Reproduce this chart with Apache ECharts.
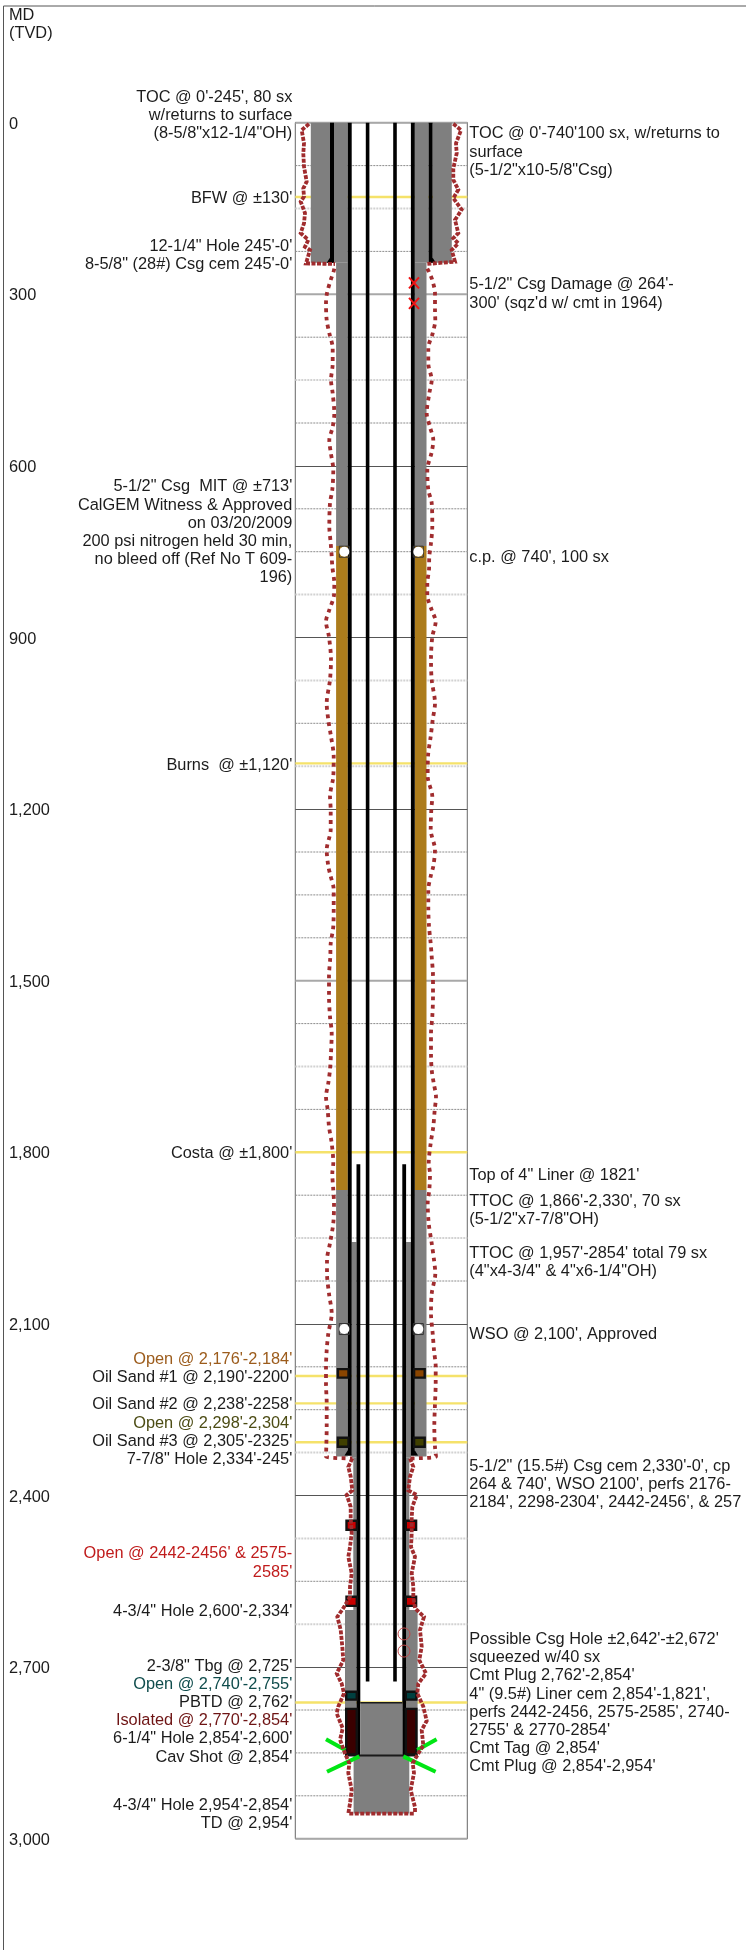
<!DOCTYPE html>
<html><head><meta charset="utf-8">
<style>html,body{margin:0;padding:0;background:#fff}#c{width:746px;height:1950px}</style>
<script src="https://cdn.jsdelivr.net/npm/echarts@6/dist/echarts.min.js"></script>
</head><body><div id="c"></div>
<script>
// ---- Data: depth in feet, offset = schematic distance from the well centre ----
const depthTickLabels = ['0','300','600','900','1,200','1,500','1,800','2,100','2,400','2,700','3,000'];
const minorThin  = [75,225,375,525,675,750,1050,1275,1350,1425,1575,1725,1875,2025,2175,2250,2550,2775,2850,2925];
const minorLight = [150,450,825,975,1125,1650,1950,2325,2475,2625];
const strongLight = [0,300,1500,3000];
const formationTops = [130,1120,1800,2191,2239,2307,2762];

// [inner offset, outer offset, top depth, bottom depth], mirrored about the centre
const grayCement = [[33.5,47.3,0,245],[51.3,70.5,0,245],[33.5,45.2,245,740],[33.5,45.2,1866,2332],[24.8,29.7,1957,2334],[24.8,28,2334,2600],[24.8,36.3,2600,2854]];
const brownCement = [[33.5,45.2,740,1866]];
const casings = [[47.3,51.3,0,245],[29.6,33.5,0,2330]];
const liner = [[21,24.8,1821,2854]];
const tubing = [[11.9,15.5,0,2725]];
const perfBrown = [[31.6,44.6,2177,2196]];
const perfOlive = [[31.6,44.6,2297,2317]];
const perfRed = [[23.3,36,2442,2462],[23.3,36,2575,2595]];
const perfTeal = [[23.3,36.3,2741,2759]];
const perfDark = [[23.3,36.3,2771,2855]];
const shoes = [[51.3,245],[33.5,2330]];
// [left, right, top, bottom], not mirrored
const plugs = [[-21,21,2762,2854],[-27.7,28,2854,2956]];
const plugEdges = [[-21,21,2761,2763.5],[-36.3,36.3,2853,2856.5]];
const cavShot = [[-55.3,2826,-36,2845],[-22,2856,-54.3,2883],[36,2845,55.3,2826],[22,2856,54.3,2883]];
const cementPorts = [[-37,750],[37,750],[-37,2109],[37,2109]];
const damageMarks = [[32.7,280],[32.7,316]];
const holeMarks = [[22.7,2642],[22.7,2672]];

const holeTopLeft = [[-72.3,2],[-79.6,13],[-77.3,36],[-78,53.5],[-77.3,77],[-74.6,103],[-78,115],[-77.3,129],[-80.6,138],[-76.3,158],[-77.3,176],[-80.6,193],[-73,205],[-76.3,217],[-71.3,222.6],[-75.3,246],[-46.3,247]];
const holeTopRight = [[72,2],[79.7,13],[74.7,36],[75.4,53.5],[72,80],[72,100],[77,117],[72,132],[80.4,152],[73.7,170],[77,193],[72,202],[77,211],[70.4,222.6],[73.7,243],[45.4,247]];
const holeMainLeft = [[-47,255],[-48,262],[-50.6,275],[-54.3,298],[-55.3,316],[-54.6,345],[-52,368],[-48.6,394],[-48.6,421],[-50.3,450],[-48.6,473],[-47,508],[-48.6,532],[-52,555],[-50.6,576],[-48,607],[-49,642],[-51.3,665],[-52,706],[-50.6,735],[-49.6,758],[-49,776],[-47,805],[-47.3,826],[-52,852],[-55.3,872],[-52.3,899],[-50.3,939],[-51.3,974],[-54.6,1015],[-53,1044],[-50.3,1073],[-47.6,1108],[-48,1143],[-51.3,1178],[-50.6,1201],[-50.6,1236],[-54.6,1271],[-53,1300],[-51,1315],[-47.6,1341],[-47.6,1371],[-48,1405],[-50.6,1435],[-51,1458],[-52.3,1493],[-52.3,1528],[-51.3,1563],[-49.6,1592],[-50.3,1627],[-51.3,1656],[-53,1679],[-55.3,1703],[-53.6,1726],[-52.3,1755],[-49.6,1784],[-48,1819],[-49,1837],[-48,1866],[-47.3,1889],[-48,1924],[-51.3,1959],[-54.3,1988],[-54.3,2012],[-52.3,2047],[-49.6,2082],[-53,2117],[-54.6,2146],[-55.3,2175],[-55.3,2204],[-54.6,2239],[-54.6,2280],[-55,2315],[-55.3,2332],[-29,2335]];
const holeMainRight = [[46,255],[48,262],[51,275],[53.7,298],[53.7,330],[54,345],[51.4,368],[47,394],[47,421],[50.4,450],[48,473],[45.4,508],[48.7,532],[52,555],[50.4,576],[46,607],[47,642],[50.4,665],[51,706],[49.7,735],[48,758],[47.7,782],[46,805],[46,826],[50.4,852],[54.4,872],[51,899],[49.7,939],[50.4,974],[53.7,1015],[51.4,1044],[49.4,1073],[46.7,1108],[46.4,1143],[51,1178],[50,1201],[49.4,1236],[53.7,1271],[52,1300],[49.7,1315],[47,1341],[47,1371],[47.7,1405],[49.4,1435],[50.4,1458],[51.7,1493],[51.7,1528],[51,1563],[49.7,1592],[49.7,1627],[50.4,1656],[52.4,1679],[54.7,1703],[53.4,1726],[52,1755],[49.4,1784],[47.4,1819],[48.7,1837],[48,1866],[46.4,1889],[47.4,1924],[50.4,1959],[52.7,1988],[54,2012],[50.4,2047],[49.7,2082],[51.4,2117],[52.7,2146],[54.4,2175],[54.4,2204],[53.7,2239],[53,2280],[53.7,2315],[54.7,2332],[28.7,2335]];
const holeLowLeft = [[-29,2335],[-33,2350],[-30.6,2367],[-29,2391],[-34.6,2399],[-30.6,2420],[-30.6,2440],[-29.6,2466],[-31.3,2490],[-33,2507],[-29.6,2536],[-31.3,2559],[-31.3,2577],[-38,2597],[-44,2612],[-40.6,2635],[-39,2664],[-38,2688],[-44.6,2711],[-39.6,2729],[-37.3,2746],[-43,2769],[-44.6,2781],[-38.6,2807],[-41.3,2827],[-36.3,2851],[-32,2868],[-33,2885],[-29.6,2915],[-31.3,2938],[-33,2956],[33.7,2956]];
const holeLowRight = [[28.7,2335],[32,2350],[28.7,2367],[27,2391],[35.4,2399],[31,2420],[30.4,2440],[30.4,2466],[29.7,2490],[33.7,2507],[30.4,2536],[32,2559],[32,2577],[33.7,2597],[42.7,2612],[38.7,2635],[40.4,2664],[38,2688],[44.7,2711],[37,2729],[36,2746],[42,2769],[45.4,2794],[40.4,2810],[42,2837],[37,2851],[31.4,2868],[32.7,2885],[29.4,2915],[33.7,2945],[33.7,2956]];

// [depth of the first line's centre, text lines, colour index]
const noteColors = ['#1c1c1c','#9c5c1c','#4c4c14','#c01c1c','#0f4c4c','#6e1414'];
const leftNotes = [
 [-46.7,["TOC @ 0'-245', 80 sx","w/returns to surface","(8-5/8\"x12-1/4\"OH)"],0],
 [131,["BFW @ ±130'"],0],
 [214,["12-1/4\" Hole 245'-0'","8-5/8\" (28#) Csg cem 245'-0'"],0],
 [634.6,["5-1/2\" Csg  MIT @ ±713'","CalGEM Witness & Approved","on 03/20/2009","200 psi nitrogen held 30 min,","no bleed off (Ref No T 609-","196)"],0],
 [1121.7,["Burns  @ ±1,120'"],0],
 [1800.7,["Costa @ ±1,800'"],0],
 [2159.6,["Open @ 2,176'-2,184'"],1],
 [2191,["Oil Sand #1 @ 2,190'-2200'"],0],
 [2239,["Oil Sand #2 @ 2,238'-2258'"],0],
 [2272,["Open @ 2,298'-2,304'"],2],
 [2303.5,["Oil Sand #3 @ 2,305'-2325'"],0],
 [2335,["7-7/8\" Hole 2,334'-245'"],0],
 [2500,["Open @ 2442-2456' & 2575-","2585'"],3],
 [2600.7,["4-3/4\" Hole 2,600'-2,334'"],0],
 [2696.9,["2-3/8\" Tbg @ 2,725'"],0],
 [2728.4,["Open @ 2,740'-2,755'"],4],
 [2760.5,["PBTD @ 2,762'"],0],
 [2791.9,["Isolated @ 2,770'-2,854'"],5],
 [2823.4,["6-1/4\" Hole 2,854'-2,600'"],0],
 [2855.4,["Cav Shot @ 2,854'"],0],
 [2939.3,["4-3/4\" Hole 2,954'-2,854'"],0],
 [2971.3,["TD @ 2,954'"],0]
];
const rightNotes = [
 [17.5,["TOC @ 0'-740'100 sx, w/returns to","surface","(5-1/2\"x10-5/8\"Csg)"],0],
 [281.5,["5-1/2\" Csg Damage @ 264'-","300' (sqz'd w/ cmt in 1964)"],0],
 [757.5,["c.p. @ 740', 100 sx"],0],
 [1838,["Top of 4\" Liner @ 1821'"],0],
 [1883.4,["TTOC @ 1,866'-2,330', 70 sx","(5-1/2\"x7-7/8\"OH)"],0],
 [1974.3,["TTOC @ 1,957'-2854' total 79 sx","(4\"x4-3/4\" & 4\"x6-1/4\"OH)"],0],
 [2117,["WSO @ 2,100', Approved"],0],
 [2347,["5-1/2\" (15.5#) Csg cem 2,330'-0', cp","264 & 740', WSO 2100', perfs 2176-","2184', 2298-2304', 2442-2456', & 257"],0],
 [2649.7,["Possible Csg Hole ±2,642'-±2,672'","squeezed w/40 sx","Cmt Plug 2,762'-2,854'","4\" (9.5#) Liner cem 2,854'-1,821',","perfs 2442-2456, 2575-2585', 2740-","2755' & 2770-2854'","Cmt Tag @ 2,854'","Cmt Plug @ 2,854'-2,954'"],0]
];

// ---- Drawing ----
const FONT = '16.35px "Liberation Sans", Arial, sans-serif';
const LINE = 18.2;
const base = {type:'custom',coordinateSystem:'cartesian2d',silent:true,animation:false,clip:false};

function rectSeries(rows,fill,opt){
  opt = opt||{};
  return Object.assign({},base,{data:rows,renderItem(p,api){
    const a=api.value(0),b=api.value(1),t=api.value(2),d=api.value(3);
    const inset=opt.border?1.2:0;
    const one=(x0,x1)=>{
      const p0=api.coord([x0,t]),p1=api.coord([x1,d]);
      return {type:'rect',shape:{x:p0[0]+inset,y:p0[1]+inset,width:p1[0]-p0[0]-2*inset,height:p1[1]-p0[1]-2*inset},
        style:opt.border?{fill:fill,stroke:opt.border,lineWidth:2.4}:{fill:fill}};
    };
    if(opt.flat) return one(a,b);
    return {type:'group',children:[one(-b,-a),one(a,b)]};
  }});
}
function hLineSeries(rows,color,width,dash){
  return Object.assign({},base,{data:rows.map(v=>[v]),renderItem(p,api){
    const l=api.coord([-86,api.value(0)]),r=api.coord([86,api.value(0)]);
    return {type:'line',shape:{x1:l[0],y1:l[1],x2:r[0],y2:r[1]},style:{stroke:color,lineWidth:width,lineDash:dash||null}};
  }});
}
function holeSeries(rows,dash,width,smooth){
  return {type:'line',data:rows,showSymbol:false,symbol:'none',silent:true,animation:false,clip:false,smooth:smooth||false,
    lineStyle:{color:'#a02c2e',width:width,type:dash,cap:'butt',join:'miter'}};
}
function noteSeries(rows,x,align){
  return Object.assign({},base,{data:rows.map(r=>[r[0]]),renderItem(p,api){
    const r=rows[p.dataIndex];
    const at=api.coord([x,api.value(0)]);
    return {type:'group',children:r[1].map((s,i)=>({type:'text',style:{x:at[0],y:at[1]+1.2+i*LINE,text:s,fill:noteColors[r[2]],font:FONT,align:align,verticalAlign:'middle'}}))};
  }});
}
const series = [
  hLineSeries(minorThin,'#8c8c8c',1,[2,1]),
  hLineSeries(minorLight,'#d2d2d2',2,[2,1]),
  hLineSeries(strongLight,'#a8a8a8',2),
  hLineSeries(formationTops,'#f5e26a',2.4),
  holeSeries(holeTopLeft,[4,1.5],3.8),
  holeSeries(holeTopRight,[4,1.5],3.8),
  holeSeries(holeMainLeft,[3.8,4.4],3.8,0.3),
  holeSeries(holeMainRight,[3.8,4.4],3.8,0.3),
  holeSeries(holeLowLeft,[4,1.5],3.8),
  holeSeries(holeLowRight,[4,1.5],3.8),
  rectSeries(grayCement,'#7f7f7f'),
  rectSeries(brownCement,'#ac7c1c'),
  rectSeries(casings,'#000'),
  rectSeries(liner,'#000'),
  rectSeries(tubing,'#000'),
  Object.assign({},base,{data:shoes,renderItem(p,api){
    const o=api.value(0),d=api.value(1);
    const tri=s=>({type:'polygon',shape:{points:[api.coord([s*o,d-9]),api.coord([s*(o+3.3),d]),api.coord([s*(o-4),d])]},style:{fill:'#000'}});
    return {type:'group',children:[tri(-1),tri(1)]};
  }}),
  rectSeries(plugs,'#7f7f7f',{flat:true}),
  rectSeries(plugEdges,'#1a1a1a',{flat:true}),
  rectSeries(perfBrown,'#8a4500',{border:'#111'}),
  rectSeries(perfOlive,'#404000',{border:'#111'}),
  rectSeries(perfRed,'#c80000',{border:'#111'}),
  rectSeries(perfTeal,'#004040',{border:'#111'}),
  rectSeries(perfDark,'#3a0000',{border:'#111'}),
  Object.assign({},base,{data:cementPorts,renderItem(p,api){
    const c=api.coord([api.value(0),api.value(1)]);
    return {type:'group',children:[
      {type:'rect',shape:{x:c[0]-5,y:c[1]-5.5,width:10,height:11},style:{fill:'none',stroke:'#333',lineWidth:1}},
      {type:'circle',shape:{cx:c[0],cy:c[1],r:5},style:{fill:'#fff'}}]};
  }}),
  Object.assign({},base,{data:cavShot,renderItem(p,api){
    const a=api.coord([api.value(0),api.value(1)]),b=api.coord([api.value(2),api.value(3)]);
    return {type:'line',shape:{x1:a[0],y1:a[1],x2:b[0],y2:b[1]},style:{stroke:'#00e614',lineWidth:4}};
  }}),
  Object.assign({},base,{data:damageMarks,renderItem(p,api){
    const c=api.coord([api.value(0),api.value(1)]);
    const seg=(s)=>({type:'line',shape:{x1:c[0]-5,y1:c[1]-5.5*s,x2:c[0]+5,y2:c[1]+5.5*s},style:{stroke:'#f01414',lineWidth:2}});
    return {type:'group',children:[seg(1),seg(-1)]};
  }}),
  Object.assign({},base,{data:holeMarks,renderItem(p,api){
    const c=api.coord([api.value(0),api.value(1)]);
    return {type:'circle',shape:{cx:c[0],cy:c[1],r:6},style:{fill:'none',stroke:'#c04848',lineWidth:1}};
  }}),
  noteSeries(leftNotes,-89,'right'),
  noteSeries(rightNotes,88,'left')
];

const chart = echarts.init(document.getElementById('c'),null,{renderer:'canvas',width:746,height:1950});
chart.setOption({
  animation:false,
  backgroundColor:'#fff',
  title:{text:'MD\n(TVD)',left:9,top:6.5,padding:0,textStyle:{fontFamily:'"Liberation Sans", Arial, sans-serif',fontSize:16.35,fontWeight:'normal',color:'#1c1c1c',lineHeight:18.2}},
  graphic:[{type:'polyline',silent:true,shape:{points:[[746,6],[3.5,6],[3.5,1950]]},style:{fill:'none',stroke:'#555',lineWidth:1}}],
  grid:{left:295.3,top:122.7,width:172,height:1716,show:true,borderColor:'#666',borderWidth:1,containLabel:false},
  xAxis:{type:'value',min:-86,max:86,show:false},
  yAxis:{type:'value',inverse:true,min:0,max:3000,interval:300,
    axisLine:{show:false},axisTick:{show:false},
    axisLabel:{margin:286.3,align:'left',verticalAlign:'top',lineHeight:3,color:'#1c1c1c',fontFamily:'"Liberation Sans", Arial, sans-serif',fontSize:16.35,
      formatter:v=>depthTickLabels[Math.round(v/300)]},
    splitLine:{show:true,lineStyle:{color:'#555',width:1}}},
  series:series
});
</script></body></html>
